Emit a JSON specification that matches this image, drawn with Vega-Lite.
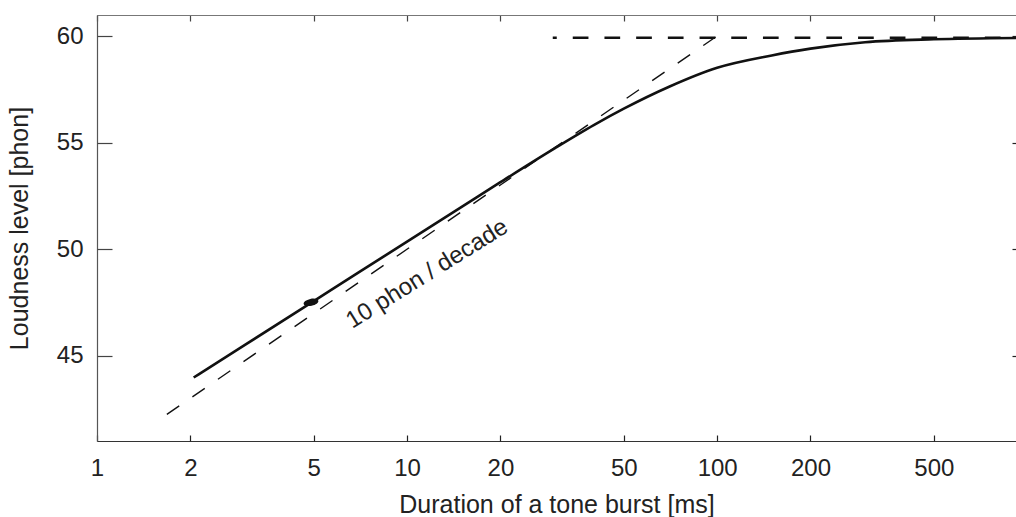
{
  "$schema": "https://vega.github.io/schema/vega-lite/v6.json",
  "width": 919,
  "height": 426,
  "autosize": {"type": "none"},
  "padding": {"left": 97, "top": 15, "right": 0, "bottom": 76},
  "background": "white",
  "config": {
    "view": {"stroke": null},
    "font": "Liberation Sans",
    "axis": {"grid": false, "labelFont": "Liberation Sans", "titleFont": "Liberation Sans", "labelColor": "#222", "titleColor": "#222", "titleFontWeight": "normal"}
  },
  "datasets": {
    "curve": [
      {"t": 2.05, "L": 43.98},
      {"t": 3, "L": 45.51},
      {"t": 5, "L": 47.57},
      {"t": 7, "L": 48.93},
      {"t": 10, "L": 50.36},
      {"t": 15, "L": 51.99},
      {"t": 20, "L": 53.15},
      {"t": 30, "L": 54.75},
      {"t": 40, "L": 55.83},
      {"t": 50, "L": 56.6},
      {"t": 70, "L": 57.63},
      {"t": 100, "L": 58.52},
      {"t": 150, "L": 59.1},
      {"t": 200, "L": 59.42},
      {"t": 300, "L": 59.72},
      {"t": 500, "L": 59.86},
      {"t": 920, "L": 59.92}
    ],
    "slope": [
      {"t": 1.68, "L": 42.25},
      {"t": 108, "L": 60.35}
    ],
    "plateau": [
      {"t": 29.5, "L": 59.93},
      {"t": 920, "L": 59.93}
    ],
    "dot": [
      {"t": 4.9, "L": 47.51}
    ],
    "label": [
      {"t": 11.94, "L": 48.56, "text": "10 phon / decade"}
    ]
  },
  "resolve": {"axis": {"x": "independent", "y": "independent"}},
  "layer": [
    {
      "data": {"name": "curve"},
      "mark": {"type": "line", "color": "#111", "strokeWidth": 2.6, "interpolate": "monotone"},
      "encoding": {
        "x": {"field": "t", "type": "quantitative",
              "scale": {"type": "log", "domain": [1, 920], "nice": false},
              "axis": {"orient": "bottom", "values": [1, 2, 5, 10, 20, 50, 100, 200, 500], "format": "d", "ticks": false,
                       "domainColor": "#333", "domainWidth": 1.2, "labelFontSize": 24, "labelPadding": 15, "labelFlush": false,
                       "title": "Duration of a tone burst [ms]", "titleFontSize": 25, "titleY": 71, "titleBaseline": "alphabetic"}},
        "y": {"field": "L", "type": "quantitative",
              "scale": {"domain": [41, 61], "nice": false, "zero": false},
              "axis": {"orient": "left", "values": [45, 50, 55, 60], "ticks": false,
                       "domainColor": "#555", "domainWidth": 1.2, "labelFontSize": 24, "labelPadding": 14,
                       "title": "Loudness level [phon]", "titleFontSize": 25, "titleX": -70, "titleBaseline": "alphabetic"}}
      }
    },
    {
      "data": {"name": "slope"},
      "mark": {"type": "line", "color": "#111", "strokeWidth": 1.4, "strokeDash": [15, 16]},
      "encoding": {
        "x": {"field": "t", "type": "quantitative",
              "axis": {"orient": "bottom", "values": [1, 2, 5, 10, 20, 50, 100, 200, 500], "labels": false, "domain": false,
                       "ticks": true, "tickSize": 6, "offset": -6, "tickWidth": 1.2, "tickColor": "#222", "title": null}},
        "y": {"field": "L", "type": "quantitative",
              "axis": {"orient": "left", "values": [45, 50, 55, 60], "labels": false, "domain": false,
                       "ticks": true, "tickSize": 15, "offset": -15, "tickWidth": 1.2, "tickColor": "#444", "title": null}}
      }
    },
    {
      "data": {"name": "plateau"},
      "mark": {"type": "line", "color": "#111", "strokeWidth": 2.6, "strokeDash": [15.7, 16], "strokeDashOffset": 11.7},
      "encoding": {
        "x": {"field": "t", "type": "quantitative",
              "axis": {"orient": "top", "values": [1, 2, 5, 10, 20, 50, 100, 200, 500], "labels": false, "domain": false,
                       "ticks": true, "tickSize": 6, "offset": -6, "tickWidth": 1.2, "tickColor": "#444", "title": null}},
        "y": {"field": "L", "type": "quantitative",
              "axis": {"orient": "right", "values": [45, 50, 55, 60], "labels": false, "domain": false,
                       "ticks": true, "tickSize": 4, "offset": -4, "tickWidth": 1.2, "tickColor": "#222", "title": null}}
      }
    },
    {
      "data": {"name": "dot"},
      "mark": {"type": "point", "shape": "M -1 0 A 1 0.47 0 1 0 1 0 A 1 0.47 0 1 0 -1 0 Z", "size": 225, "filled": true, "color": "#111", "opacity": 1, "angle": -12},
      "encoding": {
        "x": {"field": "t", "type": "quantitative",
              "axis": {"orient": "top", "labels": false, "ticks": false, "domain": true, "domainColor": "#777", "domainWidth": 1.2, "title": null, "values": []}},
        "y": {"field": "L", "type": "quantitative", "axis": null}
      }
    },
    {
      "data": {"name": "label"},
      "mark": {"type": "text", "font": "Liberation Sans", "fontSize": 24, "color": "#222", "angle": -32, "align": "center", "baseline": "alphabetic"},
      "encoding": {
        "x": {"field": "t", "type": "quantitative", "axis": null},
        "y": {"field": "L", "type": "quantitative", "axis": null},
        "text": {"field": "text", "type": "nominal"}
      }
    }
  ]
}
